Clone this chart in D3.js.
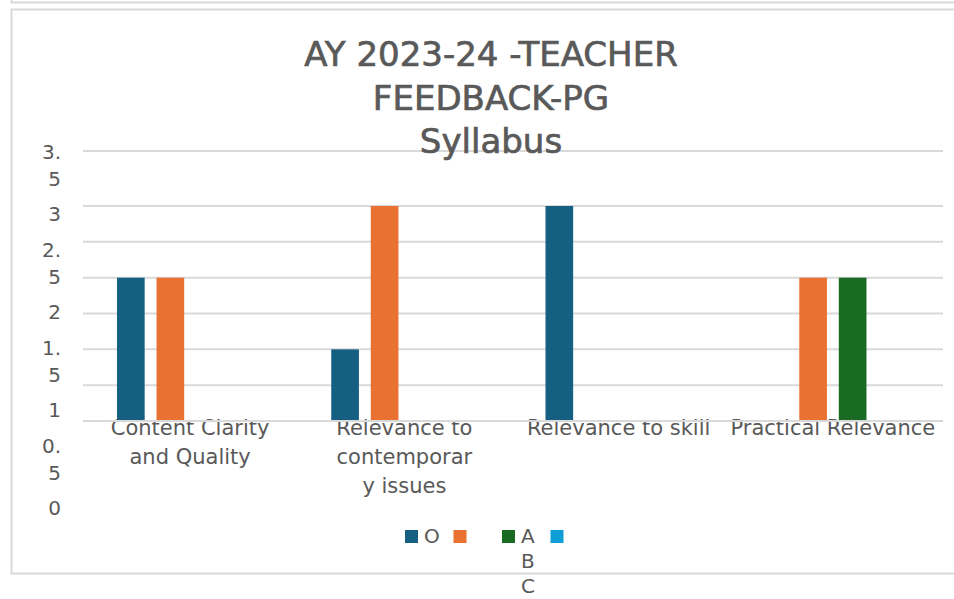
<!DOCTYPE html>
<html><head><meta charset="utf-8">
<script src="https://cdn.jsdelivr.net/npm/d3@7/dist/d3.min.js"></script>
<style>body{margin:0;background:#fff}svg{display:block}text{font-family:"DejaVu Sans",Verdana,sans-serif;fill:#595959}</style>
</head><body><svg id="c" width="954" height="599"></svg>
<script>
// ---- data ----
const titleLines = ["AY 2023-24 -TEACHER", "FEEDBACK-PG", "Syllabus"];
const categories = ["Content Clarity and Quality", "Relevance to contemporary issues", "Relevance to skill", "Practical Relevance"];
const categoryLines = [["Content Clarity", "and Quality"], ["Relevance to", "contemporar", "y issues"], ["Relevance to skill"], ["Practical Relevance"]];
const series = ["O", "A", "B", "C"];
const valuesO = [2, 1, 3, 0];
const valuesA = [2, 3, 0, 2];
const valuesB = [0, 0, 0, 2];
const valuesC = [0, 0, 0, 0];
const seriesColors = ["#156082", "#E97132", "#196B24", "#0F9ED5"];
const legendLabels = [["O"], [""], ["A", "B", "C"], [""]];
const tickValues = [0, 0.5, 1, 1.5, 2, 2.5, 3, 3.5];
const tickLabelLines = [["0"], ["0.", "5"], ["1"], ["1.", "5"], ["2"], ["2.", "5"], ["3"], ["3.", "5"]];

const seriesValues = [valuesO, valuesA, valuesB, valuesC];

const svg = d3.select("#c");
const grid = "#d9d9d9";

// chart frame
svg.append("line").attr("x1", 11).attr("x2", 954).attr("y1", 2.5).attr("y2", 2.5).attr("stroke", grid).attr("stroke-width", 2);
svg.append("line").attr("x1", 11.5).attr("x2", 11.5).attr("y1", 0).attr("y2", 3).attr("stroke", grid).attr("stroke-width", 2);
svg.append("path").attr("d", "M956,9.5H11.5V573.5H956").attr("fill", "none").attr("stroke", grid).attr("stroke-width", 2);

// scales
const x0 = d3.scaleBand().domain(categories).range([83, 940]).paddingInner(0).paddingOuter(0);
const x1 = d3.scaleBand().domain(series).range([0, x0.bandwidth()]).paddingInner(0.3).paddingOuter(0.86);
const y = d3.scaleLinear().domain([0, 3, 3.5]).range([421, 206, 151]);
const yLab = d3.scaleLinear().domain([0, 3.5]).range([508, 165]);

// gridlines
svg.append("g").selectAll("line").data(tickValues).join("line")
  .attr("x1", 83).attr("x2", 943)
  .attr("y1", d => y(d)).attr("y2", d => y(d))
  .attr("stroke", grid).attr("stroke-width", 2);

// y tick labels (wrapped)
const yl = svg.append("g");
tickValues.forEach((v, i) => {
  const lines = tickLabelLines[i];
  const lh = 27;
  const c = yLab(v);
  const t = yl.append("text").attr("text-anchor", "end").attr("font-size", 20);
  lines.forEach((s, j) => {
    t.append("tspan").attr("x", 61).attr("y", c + 7 + (j - (lines.length - 1) / 2) * lh).text(s);
  });
});

// category labels (drawn before axis line)
const cl = svg.append("g");
categories.forEach((c, i) => {
  const t = cl.append("text").attr("text-anchor", "middle").attr("font-size", 21);
  categoryLines[i].forEach((s, j) => {
    t.append("tspan").attr("x", x0(c) + x0.bandwidth() / 2).attr("y", 435 + j * 29).text(s);
  });
});

// bars
const g = svg.append("g");
series.forEach((s, si) => {
  g.append("g").selectAll("rect").data(seriesValues[si].map((v, i) => ({ v, c: categories[i] })).filter(d => d.v > 0)).join("rect")
    .attr("x", d => x0(d.c) + x1(s))
    .attr("width", x1.bandwidth())
    .attr("y", d => y(d.v))
    .attr("height", d => y(0) - y(d.v))
    .attr("fill", seriesColors[si]);
});

// axis baseline
svg.append("line").attr("x1", 83).attr("x2", 943).attr("y1", y(0)).attr("y2", y(0)).attr("stroke", grid).attr("stroke-width", 2);

// title
const tt = svg.append("text").attr("text-anchor", "middle").attr("font-size", 34)
  .style("stroke", "#595959").style("stroke-width", 0.7);
titleLines.forEach((s, j) => tt.append("tspan").attr("x", 491).attr("y", 66 + j * 43.5).text(s));

// legend
const lg = svg.append("g");
series.forEach((s, i) => {
  const lx = 405 + i * 48.5;
  lg.append("rect").attr("x", lx).attr("y", 530).attr("width", 13).attr("height", 13).attr("fill", seriesColors[i]);
  const t = lg.append("text").attr("font-size", 20);
  legendLabels[i].forEach((l, j) => t.append("tspan").attr("x", lx + 19).attr("y", 543 + j * 25).text(l));
});
</script></body></html>
